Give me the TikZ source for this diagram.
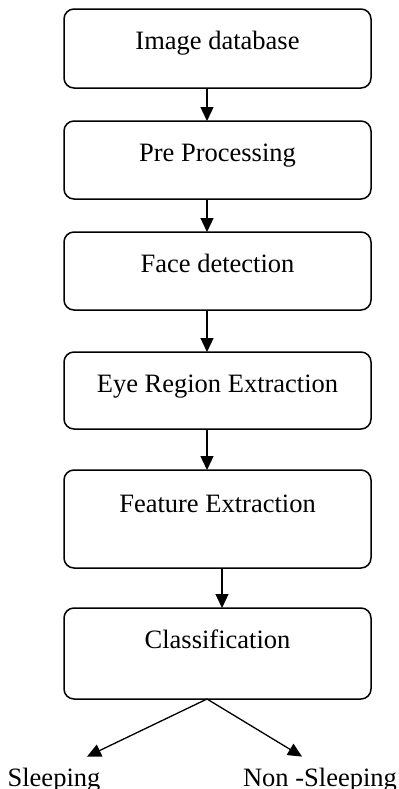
\documentclass[tikz,border=0pt]{standalone}
\usepackage{fontspec}
\setmainfont{Liberation Serif}
\usetikzlibrary{positioning, arrows.meta}

\begin{document}
\begin{tikzpicture}[
    box/.style={draw, rounded corners=5pt, line width=0.75pt, minimum width=153.5pt,
        outer sep=0pt, inner ysep=0pt, text height=20pt, font=\fontsize{13.25pt}{16pt}\selectfont},
    arr/.style={-{Triangle[length=7pt,width=6.5pt]}, line width=0.65pt},
    result/.style={inner xsep=0pt, inner ysep=5.5pt, text height=9pt, anchor=base,
        font=\fontsize{13.25pt}{16pt}\selectfont}
]
\useasboundingbox (0,0) rectangle (199pt,-394.5pt);

% pipeline stages
\node[box, text depth=19.5pt, anchor=north] (imgdb) at (108.75pt,-4.5pt) {Image database};
\node[box, text depth=19pt, below=16.5pt of imgdb] (preproc) {Pre Processing};
\node[box, text depth=19pt, below=16.5pt of preproc] (facedet) {Face detection};
\node[box, text depth=18.5pt, below=21pt of facedet] (eyereg) {Eye Region Extraction};
\node[box, text height=21pt, text depth=28pt, below=20.5pt of eyereg] (featext) {Feature Extraction};
\node[box, text depth=25.5pt, below=20pt of featext] (classif) {Classification};

% outcomes
\node[result] (sleep) at (27pt,-393pt) {Sleeping};
\node[result] (nonsleep) at (160pt,-393pt) {Non -Sleeping};

% arrows
\draw[arr] ([xshift=-5.25pt]imgdb.south) -- ([xshift=-5.25pt]preproc.north);
\draw[arr] ([xshift=-5.25pt]preproc.south) -- ([xshift=-5.25pt]facedet.north);
\draw[arr] ([xshift=-5.25pt]facedet.south) -- ([xshift=-5.25pt]eyereg.north);
\draw[arr] ([xshift=-5.25pt]eyereg.south) -- ([xshift=-5.25pt]featext.north);
\draw[arr] ([xshift=2.25pt]featext.south) -- ([xshift=2.25pt]classif.north);
\draw[arr] ([xshift=-5.25pt]classif.south) -- ([xshift=16.5pt]sleep.north);
\draw[arr] ([xshift=-5.25pt]classif.south) -- ([xshift=-9pt]nonsleep.north);
\end{tikzpicture}
\end{document}
